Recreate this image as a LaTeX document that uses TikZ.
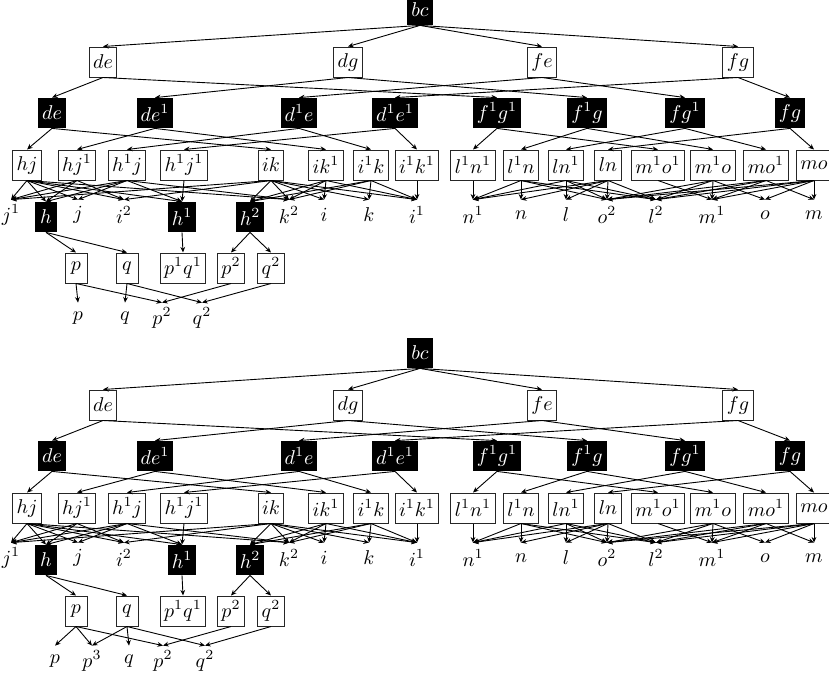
\documentclass[tikz,border=0pt]{standalone}
\usepackage{amsmath}
\usetikzlibrary{arrows.meta}

\tikzset{
  wbox/.style={draw=black!85, line width=0.5pt, inner xsep=2pt, inner ysep=0pt,
               minimum height=15pt, minimum width=11pt},
  bbox/.style={fill=black, text=white, inner xsep=2pt, inner ysep=0pt,
               minimum height=15pt, minimum width=11pt},
  leaf/.style={inner sep=0pt, minimum height=15pt},
  link/.style={-{Stealth[length=2.8pt,width=2.4pt]}, line width=0.45pt},
}

\newcommand\drawlattice[1]{%
  \node[bbox] (#1bc) at (420,10) {$bc$};
  \foreach \n/\x/\t in {de/103/de, dg/348/dg, fe/542/fe, fg/738/fg}
    \node[wbox] (#1a\n) at (\x,62) {$\t$};
  \foreach \n/\x/\t in {de/52/de, de1/155/de^1, d1e/299/d^1e, d1e1/395/d^1e^1,
                        f1g1/497/f^1g^1, f1g/587/f^1g, fg1/685/fg^1, fg/790/fg}
    \node[bbox] (#1b\n) at (\x,113) {$\t$};
  \foreach \n/\x/\t in {hj/27/hj, hj1/77/hj^1, h1j/127/h^1j, h1j1/184/h^1j^1,
                        ik/271/ik, ik1/326/ik^1, i1k/371/i^1k, i1k1/417/i^1k^1,
                        l1n1/473/l^1n^1, l1n/521/l^1n, ln1/566/ln^1, ln/608/ln,
                        m1o1/658/m^1o^1, m1o/713/m^1o, mo1/766/mo^1, mo/814/mo}
    \node[wbox] (#1c\n) at (\x,165) {$\t$};
  \foreach \n/\x/\t in {j1/11/j^1, j/78/j, i2/124/i^2, k2/289/k^2, i/324/i, k/369/k,
                        i1/417/i^1, n1/473/n^1, n/521/n, l/566/l, o2/607/o^2,
                        l2/656/l^2, m1/712/m^1, o/765/o, m/814/m}
    \node[leaf] (#1d\n) at (\x,215) {$\t$};
  \foreach \n/\x/\t in {h/46/h, h1/182/h^1, h2/250/h^2}
    \node[bbox] (#1d\n) at (\x,217) {$\t$};
  \foreach \n/\x/\t in {p/76/p, q/127/q, pq/183/p^1q^1, p2/231/p^2, q2/271/q^2}
    \node[wbox] (#1e\n) at (\x,268) {$\t$};
  \foreach \t in {de,dg,fe,fg}
    \draw[link] (#1bc.south) -- (#1a\t.north);
  \foreach \s/\ts in {de/{de,f1g1}, dg/{de1,f1g}, fe/{d1e,fg1}, fg/{d1e1,fg}}
    \foreach \t in \ts \draw[link] (#1a\s.south) -- (#1b\t.north);
  \foreach \s/\ts in {de/{hj,ik}, de1/{hj1,ik1}, d1e/{h1j,i1k}, d1e1/{h1j1,i1k1},
                      f1g1/{l1n1,m1o1}, f1g/{l1n,m1o}, fg1/{ln1,mo1}, fg/{ln,mo}}
    \foreach \t in \ts \draw[link] (#1b\s.south) -- (#1c\t.north);
  \foreach \s/\ts in {hj/{j1,h,j,i2,h1,k2}, hj1/{j1,h,i2}, h1j/{j1,h,j,h1,k2},
                      h1j1/{h1}, ik/{j1,i2,h2,k2,i,k,i1}, ik1/{i,h2,k2,i1},
                      i1k/{k,h2,k2,i1}, i1k1/{i1},
                      l1n1/{n1}, l1n/{n1,n,o2,l2}, ln1/{n1,l,o2,l2},
                      ln/{n1,n,l,o2,l2}, m1o1/{m1}, m1o/{m1,o,o2,l2},
                      mo1/{o2,l2,m1,m}, mo/{o2,l2,m1,o,m}}
    \foreach \t in \ts \draw[link] (#1c\s.south) -- (#1d\t.north);
  \foreach \s/\ts in {h/{p,q}, h1/{pq}, h2/{p2,q2}}
    \foreach \t in \ts \draw[link] (#1d\s.south) -- (#1e\t.north);
}

\begin{document}
\begin{tikzpicture}[x=0.5pt, y=-0.5pt]
  \useasboundingbox (0,0) rectangle (829,681);

  \drawlattice{t}
  \foreach \n/\x/\t in {p/78/p, q/125/q, p2/162/p^2, q2/202/q^2}
    \node[leaf] (tf\n) at (\x,318) {$\t$};
  \foreach \s/\ts in {p/{p,p2}, q/{q,q2}, p2/{p2}, q2/{q2}}
    \foreach \t in \ts \draw[link] (te\s.south) -- (tf\t.north);

  \begin{scope}[shift={(0,343)}]
    \drawlattice{u}
    \foreach \n/\x/\t in {p/55/p, p3/92/p^3, q/129/q, p2/163/p^2, q2/205/q^2}
      \node[leaf] (uf\n) at (\x,318) {$\t$};
    \foreach \s/\ts in {p/{p,p3,p2}, q/{p3,q,q2}, p2/{p2}, q2/{q2}}
      \foreach \t in \ts \draw[link] (ue\s.south) -- (uf\t.north);
  \end{scope}
\end{tikzpicture}
\end{document}
